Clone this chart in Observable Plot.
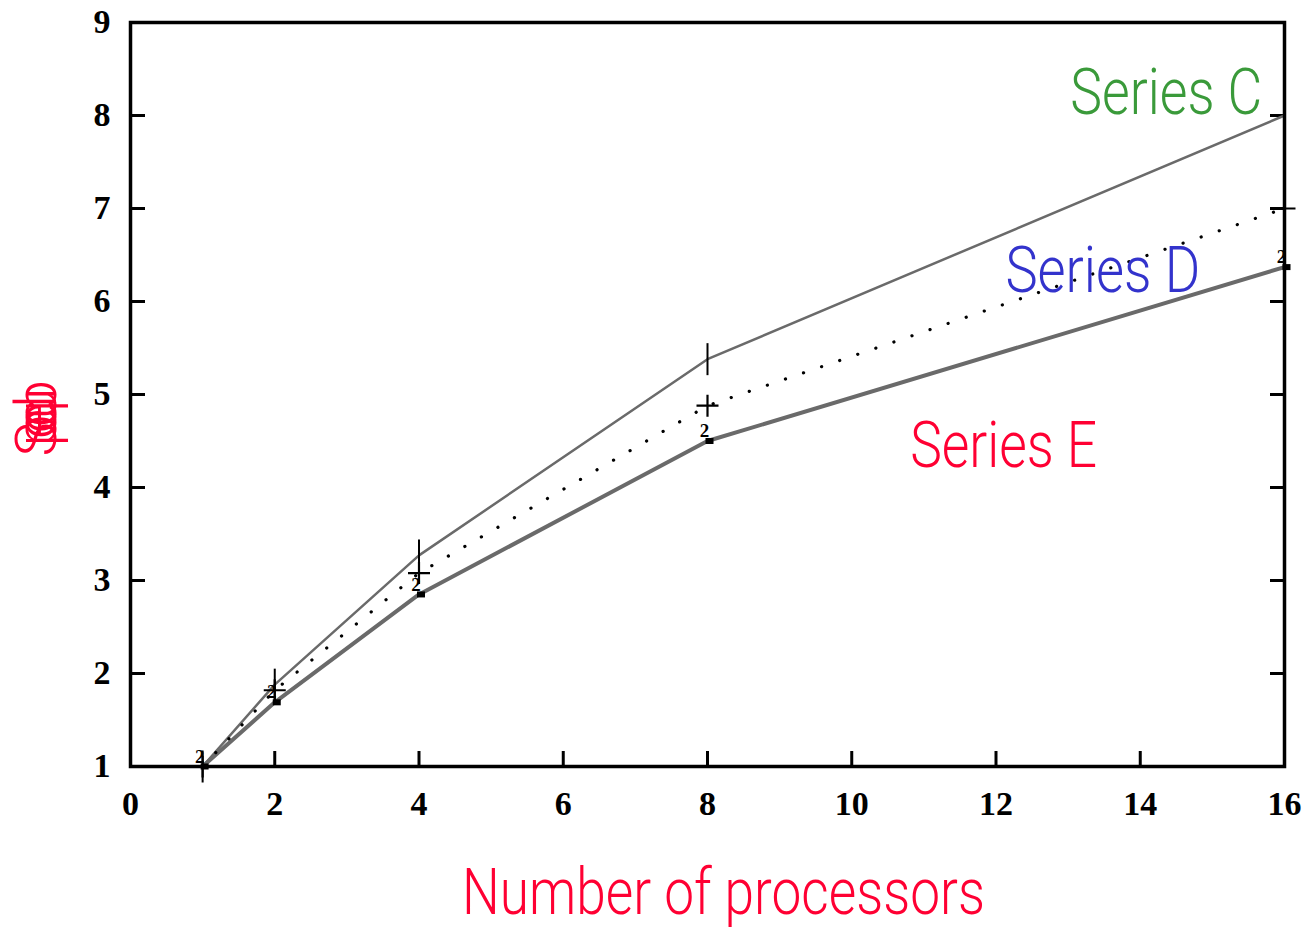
<!DOCTYPE html>
<html>
<head>
<meta charset="utf-8">
<script src="https://cdn.jsdelivr.net/npm/d3@7"></script>
<script src="https://cdn.jsdelivr.net/npm/@observablehq/plot@0.6"></script>
<style>
  html, body { margin: 0; padding: 0; background: #fff; }
  #chart svg { display: block; }
  .ylab text { letter-spacing: -0.42em; }
</style>
</head>
<body>
<div id="chart"></div>
<script>
const processors = [1, 2, 4, 8, 16];
const seriesC = [1.0, 1.88, 3.27, 5.38, 8.0];
const seriesD = [1.0, 1.82, 3.08, 4.88, 7.0];
const seriesE = [1.0, 1.69, 2.85, 4.5, 6.37];
const xTicks = [0, 2, 4, 6, 8, 10, 12, 14, 16];
const yTicks = [1, 2, 3, 4, 5, 6, 7, 8, 9];
const seriesNames = ["Series C", "Series D", "Series E"];
const xLabel = "Number of processors";
const yLabel = "Speedup";

const C = processors.map((p, i) => ({x: p, y: seriesC[i]}));
const D = processors.map((p, i) => ({x: p, y: seriesD[i]}));
const E = processors.map((p, i) => ({x: p, y: seriesE[i]}));

const red = "#ff0033";
const tickFont = "'Liberation Serif', 'DejaVu Serif', serif";
const labelFont = "Roboto, 'Liberation Sans', sans-serif";
const fmt = d3.format("d");

const vbar = {draw(ctx, size) { const r = 16; ctx.moveTo(0, -r); ctx.lineTo(0, r); }};
const plusSym = {draw(ctx, size) { const r = 11; ctx.moveTo(-r, 0); ctx.lineTo(r, 0); ctx.moveTo(0, -r); ctx.lineTo(0, r); }};
const sq = {draw(ctx, size) { ctx.rect(-4, -3, 8, 6); }};

const chart = Plot.plot({
  width: 1314,
  height: 930,
  marginLeft: 130,
  marginRight: 30,
  marginTop: 22,
  marginBottom: 164,
  x: {domain: [0, 16], label: null},
  y: {domain: [1, 9], label: null},
  style: {background: "#fff"},
  marks: [
    // inward ticks
    Plot.axisX(xTicks.slice(1, -1), {anchor: "bottom", tickSize: -15, tickFormat: () => "", strokeWidth: 3, stroke: "#000", label: null}),
    Plot.axisY(yTicks.slice(1, -1), {anchor: "left", tickSize: -15, tickFormat: () => "", strokeWidth: 3, stroke: "#000", label: null}),
    Plot.axisY(yTicks.slice(1, -1), {anchor: "right", tickSize: -15, tickFormat: () => "", strokeWidth: 3, stroke: "#000", label: null}),
    // tick labels
    Plot.axisX(xTicks, {anchor: "bottom", tickSize: 0, tickPadding: 24, tickFormat: fmt, fontSize: 34, fontWeight: "bold", fontFamily: tickFont, fill: "#000", label: null}),
    Plot.axisY(yTicks, {anchor: "left", tickSize: 0, tickPadding: 20, tickFormat: fmt, fontSize: 34, fontWeight: "bold", fontFamily: tickFont, fill: "#000", label: null}),
    // lines
    Plot.line(C, {x: "x", y: "y", stroke: "#6a6a6a", strokeWidth: 2.5}),
    Plot.line(E, {x: "x", y: "y", stroke: "#6a6a6a", strokeWidth: 4}),
    Plot.line(D, {x: "x", y: "y", stroke: "#000", strokeWidth: 3.2, strokeDasharray: "0.1,19", strokeLinecap: "round"}),
    // markers
    Plot.dot(C, {x: "x", y: "y", symbol: vbar, stroke: "#000", strokeWidth: 2, r: 5}),
    Plot.dot(D, {x: "x", y: "y", symbol: plusSym, stroke: "#000", strokeWidth: 2.2, r: 5}),
    Plot.dot(E, {x: "x", y: "y", symbol: sq, fill: "#000", stroke: "none", dx: 2, r: 5}),
    Plot.text(E, {x: "x", y: "y", text: () => "2", dx: -3, dy: -10, fontSize: 19, fontWeight: "bold", fontFamily: tickFont, fill: "#000"}),
    // series labels
    Plot.text([seriesNames[0]], {x: 13.03, y: 8.02, text: d => d, textAnchor: "start", lineAnchor: "bottom", fontSize: 64, fontWeight: 300, fontFamily: labelFont, fill: "#3a9a3a", className: "slab"}),
    Plot.text([seriesNames[1]], {x: 12.13, y: 6.1, text: d => d, textAnchor: "start", lineAnchor: "bottom", fontSize: 64, fontWeight: 300, fontFamily: labelFont, fill: "#3333cc", className: "slab"}),
    Plot.text([seriesNames[2]], {x: 10.81, y: 4.22, text: d => d, textAnchor: "start", lineAnchor: "bottom", fontSize: 64, fontWeight: 300, fontFamily: labelFont, fill: red, className: "slab"}),
    // axis titles
    Plot.text([xLabel], {frameAnchor: "bottom", dx: 16, dy: 147, text: d => d, fontSize: 64, fontWeight: 300, fontFamily: labelFont, fill: red, className: "xlab"}),
    Plot.text([yLabel], {frameAnchor: "left", dx: -93, dy: 62, text: d => d, rotate: -90, fontSize: 58, fontWeight: 300, fontFamily: labelFont, fill: red, className: "ylab"}),
    Plot.frame({stroke: "#000", strokeWidth: 3.5})
  ]
});
document.getElementById("chart").appendChild(chart);

// condense the sans-serif labels to match the narrow face of the original
const widths = {"Series C": 192, "Series D": 195, "Series E": 187, "Number of processors": 523};
d3.select(chart).selectAll(".slab text, .xlab text").each(function() {
  const t = this.textContent;
  if (widths[t]) {
    this.setAttribute("textLength", widths[t]);
    this.setAttribute("lengthAdjust", "spacingAndGlyphs");
  }
});
</script>
</body>
</html>
